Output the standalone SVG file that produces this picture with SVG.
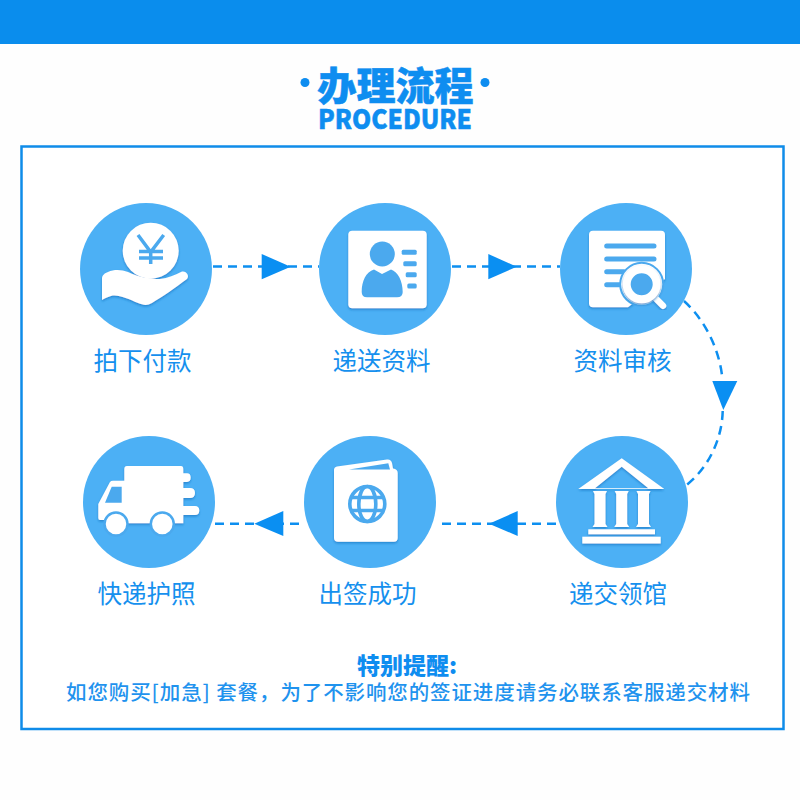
<svg xmlns="http://www.w3.org/2000/svg" width="800" height="800" viewBox="0 0 800 800">
<defs>
<filter id="sh" x="-15%" y="-15%" width="130%" height="135%"><feDropShadow dx="0" dy="1.5" stdDeviation="1" flood-color="#1f78c4" flood-opacity="0.75"/></filter>
</defs>
<style>
.disc{fill:#4cb0f5}
.ic{fill:#fff;filter:url(#sh)}
.bl{fill:#4ba9ee}
.lbl{font-family:"Noto Sans CJK SC","Liberation Sans",sans-serif;font-size:24.5px;fill:#1590ee;text-anchor:middle}
.dash{fill:none;stroke:#0d8ff0;stroke-width:2.5;stroke-dasharray:9 6}
.head{fill:#0a8ff2}
.title{font-family:"Noto Sans CJK SC",sans-serif;font-weight:900;fill:#0e8df0;text-anchor:middle}
</style>
<rect width="800" height="800" fill="#fefefe"/>
<rect width="800" height="44" fill="#0a8ded"/>
<rect x="21.500" y="146.500" width="762" height="582.500" fill="#fff" stroke="#0f8ce9" stroke-width="2.500"/>
<g id="title">
<circle cx="305" cy="82.500" r="4.500" fill="#0e8df0"/><circle cx="485" cy="82.500" r="4.500" fill="#0e8df0"/>
<text class="title" x="395.500" y="100" font-size="39" stroke="#0e8df0" stroke-width="0.500">办理流程</text>
<text x="395" y="129" font-family="'Noto Sans CJK SC',sans-serif" font-weight="900" font-size="27" fill="#0e8df0" stroke="#0e8df0" stroke-width="0.500" text-anchor="middle" textLength="154" lengthAdjust="spacingAndGlyphs">PROCEDURE</text>
</g>
<g id="connectors">
<path class="dash" d="M213 266.500H319"/><polygon class="head" points="261.700,254 261.700,279.300 290.700,266.700"/>
<path class="dash" d="M452 266.500H560"/><polygon class="head" points="488.300,254 488.300,279.300 516.700,266.700"/>
<path class="dash" d="M684 301C705 320 720 350 722.500 380"/><polygon class="head" points="712.300,381 737.300,381 723.300,410"/>
<path class="dash" d="M722.700 411C722 440 708 468 686.500 485"/>
<path class="dash" d="M556 523.700H436"/><polygon class="head" points="517.700,511 517.700,536 489,523.700"/>
<path class="dash" d="M215 523.700H304"/><polygon class="head" points="283.300,511 283.300,536 254.300,523.700"/>
</g>
<g id="node1">
<circle class="disc" cx="146" cy="269" r="66"/>
<g filter="url(#sh)" fill="#fff"><circle cx="150.700" cy="250.700" r="28"/>
<path d="M102 300V279C102 275 105 273 108 272C115 269 122 270 128 272C138 277 150 279 160 279C168 278 175 275 181 272C186 270 190 276 187 279C175 288 162 297 152 303C147 306 143 305 138 303C128 299 118 294 111 296C107 297 104 299 102 300Z"/></g>
<path d="M138 235L150.700 252L163.700 235M150.700 252V264M139 251.500H163M139 258H163" fill="none" stroke="#4ba9ee" stroke-width="3.500"/>
<text class="lbl" x="142.500" y="370">拍下付款</text>
</g>
<g id="node2">
<circle class="disc" cx="385" cy="269" r="66"/>
<rect class="ic" x="348.300" y="230.700" width="78.400" height="77.600" rx="4"/>
<circle class="bl" cx="382.300" cy="254" r="12.500"/>
<path class="bl" d="M374 269.500L382 274L391 269.500C398 272 402.700 281 402.700 292Q402.700 297.300 397 297.300H367Q361.700 297.300 361.700 292C361.700 281 366 272 374 269.500Z"/>
<rect class="bl" x="401.700" y="249.800" width="15" height="5" rx="1.500"/><rect class="bl" x="403.300" y="261.200" width="13.400" height="5" rx="1.500"/><rect class="bl" x="405.700" y="272.200" width="11" height="5" rx="1.500"/><rect class="bl" x="407.300" y="283.500" width="9.400" height="5" rx="1.500"/>
<text class="lbl" x="381.500" y="370">递送资料</text>
</g>
<g id="node3">
<circle class="disc" cx="626" cy="269" r="66"/>
<path class="ic" d="M593 230.700H661Q665 230.700 665 234.700V279L628 307.300H593Q589 307.300 589 303.300V234.700Q589 230.700 593 230.700Z"/>
<path d="M606.700 246H654M606.700 259H654M606.700 271.700H624M606.700 284.700H620" stroke="#4ba9ee" stroke-width="5" stroke-linecap="round" fill="none"/>
<circle cx="641.700" cy="284.300" r="21.500" fill="#fff" stroke="#4ba9ee" stroke-width="2"/>
<path d="M641.700 284.300L663 305.700" stroke="#fff" stroke-width="6.500" stroke-linecap="round" filter="url(#sh)"/>
<circle cx="641.700" cy="284.300" r="15" fill="#4ba9ee" stroke="#fff" stroke-width="8" filter="url(#sh)"/>
<text class="lbl" x="622.500" y="370">资料审核</text>
</g>
<g id="node4">
<circle class="disc" cx="622" cy="502" r="66"/>
<g class="ic">
<path fill-rule="evenodd" d="M621.700 458.300L664.300 489H578.300ZM621.700 466.700L595 488.300H648.300Z"/>
<path d="M593 491H607L605.500 494V524L607.500 527H592.500L594.500 524V494Z"/>
<path d="M614.700 491H628.700L627.200 494V524L629.200 527H614.200L616.200 524V494Z"/>
<path d="M636.500 491H650.500L649 494V524L651 527H636L638 524V494Z"/>
<rect x="588.300" y="529.300" width="66.700" height="5"/>
<rect x="582.300" y="536.700" width="78.400" height="6.800"/>
</g>
<text class="lbl" x="618" y="603">递交领馆</text>
</g>
<g id="node5">
<circle class="disc" cx="370" cy="502" r="66"/>
<path class="ic" d="M337 466.500L387 459.500Q391 459 392 463L393 468.500Q397.700 469 397.700 473V538Q397.700 541.700 394 541.700H338Q334 541.700 334 538V470Q334 467 337 466.500Z"/>
<path class="bl" d="M349 469.500L388.300 463.300L390 469.500Z"/>
<g fill="none" stroke="#4ba9ee" stroke-width="3.600"><circle cx="367.300" cy="504" r="17.500"/><ellipse cx="367.300" cy="504" rx="8.500" ry="17.500"/><path d="M351 497.500H384M351 510.500H384"/></g>
<text class="lbl" x="367.500" y="603">出签成功</text>
</g>
<g id="node6">
<circle class="disc" cx="149" cy="502" r="66"/>
<path class="ic" d="M127 466H181Q183.300 466 183.300 469V473.300H187Q190.700 473.300 190.700 477.600T187 482H183.300V488H190Q195 488 195 493T190 498H183.300V506H195Q199.300 506 199.300 510.500T195 515H183.300V523.300H124.300V520H100Q98.300 520 98.300 518V504L110 482Q111 480.700 113 480.700H124.300V469Q124.300 466 127 466Z"/>
<path class="bl" d="M105 502.700L111.700 486.700H121.700V502.700Z"/>
<g fill="#fff" stroke="#4ba9ee" stroke-width="2.500"><circle cx="116" cy="524" r="11.500"/><circle cx="162.300" cy="524" r="11.500"/></g>
<text class="lbl" x="146.500" y="603">快递护照</text>
</g>
<g id="note">
<text class="title" x="407" y="674" font-size="23">特别提醒:</text>
<text x="66" y="700" font-family="'Noto Sans CJK SC',sans-serif" font-weight="500" font-size="20.500" fill="#1f93ee" textLength="684">如您购买[加急] 套餐，为了不影响您的签证进度请务必联系客服递交材料</text>
</g>
</svg>
